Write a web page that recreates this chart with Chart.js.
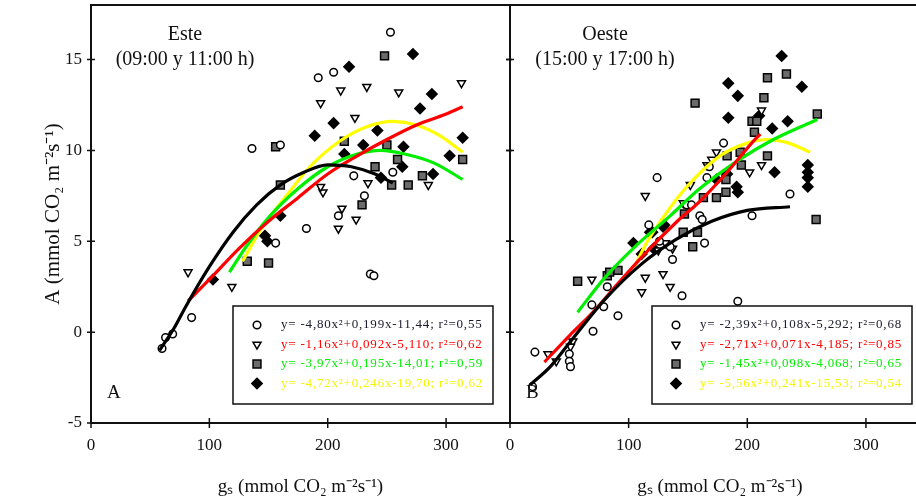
<!DOCTYPE html>
<html><head><meta charset="utf-8">
<script src="https://cdn.jsdelivr.net/npm/chart.js@4/dist/chart.umd.min.js"></script>
<style>
html,body{margin:0;padding:0;background:#fff;overflow:hidden}
#wrap{position:relative;width:916px;height:501px;overflow:hidden;background:#fff}
#c1{position:absolute;left:0;top:0}
#c2{position:absolute;left:490px;top:0}
</style></head><body>
<div id="wrap"><canvas id="c2" width="440" height="501"></canvas><canvas id="c1" width="512" height="501"></canvas></div>
<script>
// ---------- tick labels & texts ----------
const xTicks = [0, 100, 200, 300];
const yTicks = [-5, 0, 5, 10, 15];
const xTitle = 'gₛ (mmol CO₂ m⁻²s⁻¹)';
const yTitle = 'A (mmol CO₂ m⁻²s⁻¹)';
const esteTitle = ['Este', '(09:00 y 11:00 h)'];
const oesteTitle = ['Oeste', '(15:00 y 17:00 h)'];
const legendEste = ['y= -4,80x²+0,199x-11,44; r²=0,55', 'y= -1,16x²+0,092x-5,110; r²=0,62', 'y= -3,97x²+0,195x-14,01; r²=0,59', 'y= -4,72x²+0,246x-19,70; r²=0,62'];
const legendOeste = ['y= -2,39x²+0,108x-5,292; r²=0,68', 'y= -2,71x²+0,071x-4,185; r²=0,85', 'y= -1,45x²+0,098x-4,068; r²=0,65', 'y= -5,56x²+0,241x-15,53; r²=0,54'];

// ---------- Este (panel A) observations [gs, A] ----------
const esteS1 = [[253,16.5],[192,14.0],[205,14.3],[136,10.1],[160,10.3],[222,8.6],[231,7.5],[255,8.8],[182,5.7],[209,6.4],[156,4.9],[236,3.2],[239,3.1],[85,0.8],[63,-0.3],[69,-0.1],[60,-0.9]];
const esteS2 = [[313,13.7],[233,13.5],[211,13.3],[260,13.2],[194,12.6],[223,11.8],[234,8.2],[285,8.1],[196,7.7],[212,6.8],[224,6.2],[209,5.7],[119,2.5],[82,3.3],[194,8.0]];
const esteS3 = [[248,15.2],[156,10.2],[214,10.5],[250,10.3],[259,9.5],[240,9.1],[280,8.6],[254,8.1],[268,8.1],[314,9.5],[229,7.0],[150,3.8],[132,3.9],[160,8.1]];
const esteS4 = [[272,15.3],[218,14.6],[288,13.1],[278,12.3],[205,11.5],[189,10.8],[242,11.1],[230,10.3],[314,10.7],[303,9.7],[264,10.2],[263,9.1],[289,8.7],[245,8.5],[214,9.8],[160,6.4],[147,5.3],[149,5.0],[103,2.9]];
// fitted curves
const esteFit1 = [[58,-1.0],[70,0.2],[80,1.4],[100,3.6],[120,5.5],[140,7.0],[160,8.1],[180,8.8],[200,9.2],[220,9.1],[240,8.7],[255,8.2]];
const esteFit2 = [[82,1.7],[100,2.9],[125,4.6],[150,6.1],[175,7.4],[200,8.7],[225,9.7],[250,10.6],[275,11.4],[300,12.0],[314,12.4]];
const esteFit3 = [[117,3.3],[130,4.6],[150,6.3],[175,7.9],[200,9.1],[225,9.8],[245,10.0],[265,9.8],[290,9.3],[314,8.4]];
const esteFit4 = [[128,3.9],[145,5.8],[165,7.5],[185,9.1],[210,10.5],[233,11.3],[255,11.6],[275,11.4],[295,10.8],[314,9.9]];

// ---------- Oeste (panel B) observations ----------
const oesteS1 = [[180,10.4],[168,9.1],[166,8.5],[124,8.5],[236,7.6],[204,6.4],[160,6.4],[149,7.0],[117,5.9],[137,4.0],[145,2.0],[192,1.7],[162,6.2],[164,4.9],[153,7.0],[135,4.7],[126,5.0],[82,2.5],[69,1.5],[79,1.4],[91,0.9],[70,0.05],[21,-1.1],[50,-1.2],[50,-1.6],[51,-1.9],[19,-3.0]];
const oesteS2 = [[212,12.2],[174,9.9],[170,9.5],[166,9.2],[212,9.2],[202,8.8],[152,8.1],[146,7.1],[114,7.5],[69,2.9],[114,3.0],[111,2.2],[129,3.2],[135,2.5],[53,-0.5],[51,-0.8],[32,-1.2],[39,-1.6],[131,4.9],[125,4.5],[137,4.6]];
const oesteS3 = [[217,14.0],[233,14.2],[214,12.9],[259,12.0],[204,11.6],[208,11.6],[206,11.0],[217,9.7],[194,9.9],[195,9.2],[183,9.7],[182,8.4],[182,7.7],[174,7.4],[163,7.4],[147,6.5],[258,6.2],[146,5.5],[158,5.5],[156,12.6],[57,2.8],[82,3.1],[84,3.3],[91,3.4],[154,4.7]];
const oesteS4 = [[229,15.2],[184,13.7],[246,13.5],[192,13.0],[184,11.8],[234,11.6],[221,11.2],[210,11.9],[223,8.8],[251,9.2],[251,8.8],[251,8.5],[251,8.0],[191,8.0],[192,7.7],[183,8.7],[174,8.4],[130,5.9],[118,5.5],[104,4.9],[111,4.3],[120,5.5],[129,5.8],[121,4.6]];
const oesteFit1 = [[17,-2.9],[34,-1.9],[50,-0.6],[80,1.8],[110,3.7],[140,5.1],[170,6.1],[200,6.7],[236,6.9]];
const oesteFit2 = [[29,-1.65],[50,-0.2],[70,1.1],[90,2.6],[112,4.2],[141,6.1],[160,7.2],[183,8.8],[205,10.5],[211,10.9]];
const oesteFit3 = [[57,1.1],[80,3.0],[107,4.8],[135,6.4],[160,7.9],[191,9.4],[222,10.6],[259,11.7]];
const oesteFit4 = [[105,3.6],[115,4.9],[130,6.4],[149,8.0],[177,9.7],[200,10.4],[217,10.6],[235,10.4],[253,9.9]];

// ---------- styles ----------
const FONT = '"Liberation Serif", "Times New Roman", serif';
const lineColors = ['#000000', '#ff0000', '#00ee00', '#ffff00'];
const legendColors = ['#1a1a2a', '#ff0000', '#00ee00', '#f5f500'];
const markers = [
  {pointStyle: 'circle', radius: 3.8, bg: '#ffffff', rot: 0},
  {pointStyle: 'triangle', radius: 4.6, bg: '#ffffff', rot: 180},
  {pointStyle: 'rect', radius: 5.6, bg: '#6b6b6b', rot: 0},
  {pointStyle: 'rectRot', radius: 5.2, bg: '#000000', rot: 0}
];
const toXY = arr => arr.map(p => ({x: p[0], y: p[1]}));

function drawMarker(ctx, m, x, y) {
  ctx.save();
  ctx.fillStyle = m.bg; ctx.strokeStyle = '#000'; ctx.lineWidth = 1.5;
  ctx.beginPath();
  const r = m.radius;
  if (m.pointStyle === 'circle') { ctx.arc(x, y, r, 0, Math.PI * 2); }
  else if (m.pointStyle === 'triangle') { ctx.moveTo(x - r * 0.87, y - r * 0.5); ctx.lineTo(x + r * 0.87, y - r * 0.5); ctx.lineTo(x, y + r); ctx.closePath(); }
  else if (m.pointStyle === 'rect') { const s = r * Math.SQRT1_2; ctx.rect(x - s, y - s, 2 * s, 2 * s); }
  else { ctx.moveTo(x, y - r); ctx.lineTo(x + r, y); ctx.lineTo(x, y + r); ctx.lineTo(x - r, y); ctx.closePath(); }
  ctx.fill(); ctx.stroke();
  ctx.restore();
}

const deco = {
  id: 'deco',
  afterDatasetsDraw(chart, args, o) {
    const {ctx, chartArea: a, scales: {x, y}} = chart;
    ctx.save();
    ctx.strokeStyle = '#111'; ctx.lineWidth = 2;
    ctx.strokeRect(a.left, a.top, a.right - a.left, a.bottom - a.top);
    ctx.lineWidth = 1.5;
    yTicks.forEach(v => {
      const py = y.getPixelForValue(v);
      ctx.beginPath();
      ctx.moveTo(a.left - 4, py); ctx.lineTo(a.left + 4, py);
      ctx.moveTo(a.right - 4, py); ctx.lineTo(a.right + 4, py);
      ctx.stroke();
    });
    xTicks.forEach(v => {
      const px = x.getPixelForValue(v);
      ctx.beginPath(); ctx.moveTo(px, a.bottom - 5); ctx.lineTo(px, a.bottom + 5); ctx.stroke();
    });
    // panel title
    ctx.fillStyle = '#111'; ctx.textAlign = 'center'; ctx.textBaseline = 'middle';
    ctx.font = '20px ' + FONT;
    o.title.forEach((t, i) => ctx.fillText(t, a.left + o.titleX, a.top + 30 + i * 25));
    // panel letter
    ctx.textAlign = 'left'; ctx.font = '19px ' + FONT;
    ctx.fillText(o.letter, a.left + 16, a.bottom - 30);
    // legend box
    const bx = a.left + 142, by = a.top + 301, bw = 260, bh = 98;
    ctx.fillStyle = '#fff'; ctx.fillRect(bx, by, bw, bh);
    ctx.strokeStyle = '#111'; ctx.lineWidth = 1.5; ctx.strokeRect(bx, by, bw, bh);
    ctx.font = '13px ' + FONT;
    try { ctx.letterSpacing = '0.8px'; } catch (e) {}
    o.legend.forEach((t, i) => {
      const ry = by + 19 + i * 19.5;
      drawMarker(ctx, markers[i], bx + 24, ry);
      ctx.fillStyle = legendColors[i]; ctx.textAlign = 'left'; ctx.textBaseline = 'middle';
      ctx.fillText(t, bx + 48, ry);
    });
    ctx.restore();
  }
};

function makeDatasets(series, fits) {
  const ds = [];
  series.forEach((s, i) => {
    const m = markers[i];
    ds.push({type: 'scatter', data: toXY(s), pointStyle: m.pointStyle, pointRadius: m.radius, pointRotation: m.rot,
      backgroundColor: m.bg, borderColor: '#000', pointBorderWidth: 1.5, showLine: false, order: 1});
  });
  fits.forEach((f, i) => {
    ds.push({type: 'scatter', data: toXY(f), showLine: true, borderColor: lineColors[i], borderWidth: 3.2,
      pointRadius: 0, tension: 0.4, cubicInterpolationMode: 'monotone', order: 0, fill: false});
  });
  return ds;
}

function zeroPad(s) { s.paddingTop = 0; s.paddingBottom = 0; s.paddingLeft = 0; s.paddingRight = 0; }

function makeChart(id, series, fits, deco_opts, left) {
  return new Chart(document.getElementById(id), {
    type: 'scatter',
    data: {datasets: makeDatasets(series, fits)},
    options: {
      responsive: false, animation: false, devicePixelRatio: 1,
      layout: {autoPadding: false, padding: {top: 5, right: left ? 2 : 0, bottom: 0, left: 0}},
      plugins: {legend: {display: false}, tooltip: {enabled: false}, deco: deco_opts},
      scales: {
        x: {type: 'linear', min: 0, max: 354,
          afterBuildTicks: s => { s.ticks = xTicks.map(v => ({value: v})); },
          afterFit: s => { s.height = 78; zeroPad(s); },
          grid: {display: false, drawTicks: false}, border: {display: false},
          ticks: {color: '#111', font: {family: FONT, size: 17}, padding: 12, maxRotation: 0, autoSkip: false},
          title: {display: true, text: xTitle, color: '#111', font: {family: FONT, size: 19}, padding: {top: 0, bottom: 3}}},
        y: {type: 'linear', min: -5, max: 18,
          afterBuildTicks: s => { s.ticks = yTicks.map(v => ({value: v})); },
          afterFit: s => { s.width = left ? 91 : 20; zeroPad(s); },
          grid: {display: false, drawTicks: false}, border: {display: false},
          ticks: {display: left, color: '#111', font: {family: FONT, size: 17}, padding: 9},
          title: {display: left, text: yTitle, color: '#111', font: {family: FONT, size: 21}, padding: {top: 41, bottom: 0}}}
      }
    },
    plugins: [deco]
  });
}

makeChart('c1', [esteS1, esteS2, esteS3, esteS4], [esteFit1, esteFit2, esteFit3, esteFit4],
  {title: esteTitle, titleX: 94, letter: 'A', legend: legendEste}, true);
makeChart('c2', [oesteS1, oesteS2, oesteS3, oesteS4], [oesteFit1, oesteFit2, oesteFit3, oesteFit4],
  {title: oesteTitle, titleX: 95, letter: 'B', legend: legendOeste}, false);
</script>
</body></html>
